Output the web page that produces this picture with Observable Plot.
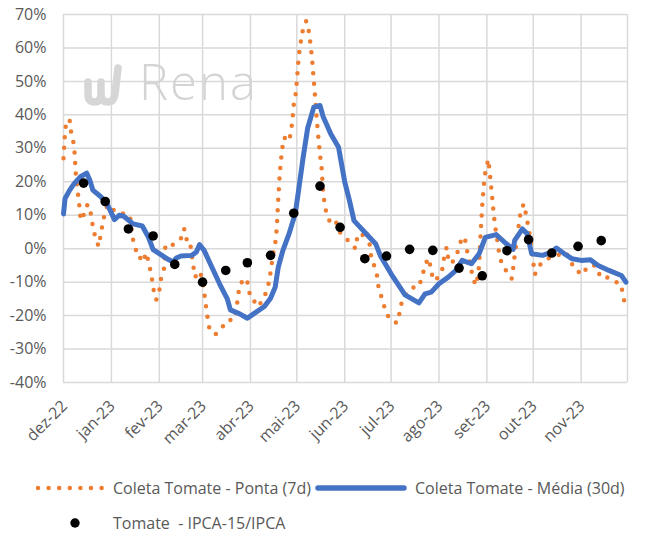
<!DOCTYPE html>
<html>
<head>
<meta charset="utf-8">
<script src="https://cdn.jsdelivr.net/npm/d3@7"></script>
<script src="https://cdn.jsdelivr.net/npm/@observablehq/plot@0.6"></script>
<style>
  html, body { margin: 0; padding: 0; background: #fff; }
  #wrap { position: relative; width: 646px; height: 537px; font-family: "Open Sans", sans-serif; color: #595959; overflow: hidden; }
  #chart { position: absolute; left: 0; top: 0; }
  .wm { position: absolute; pointer-events: none; }
  .leg { position: absolute; font-size: 16px; white-space: pre; line-height: 20px; }
</style>
</head>
<body>
<div id="wrap">
  <div id="chart"></div>
  <svg class="wm" style="left:80px;top:62px" width="46" height="46">
    <path d="M8 20 L8 32 Q8 40 14.5 40 Q21 40 21 32 L21 20 M21 32 Q21 40 28 40 Q34 40 35 32 L38 6" fill="none" stroke="#d6d6d6" stroke-width="7.5" stroke-linecap="round" stroke-linejoin="round"/>
  </svg>
  <div class="wm" style="left:139px;top:48px;font-family:'Open Sans',sans-serif;font-weight:300;font-size:49px;letter-spacing:2px;color:#d4d4d4">Rena</div>
  <svg class="leg" style="left:34px;top:478px" width="74" height="20">
    <line x1="4" y1="10" x2="68" y2="10" stroke="#ED7D31" stroke-width="4.5" stroke-linecap="round" stroke-dasharray="0 10.6"/>
  </svg>
  <div class="leg" style="left:113px;top:478px">Coleta Tomate - Ponta (7d)</div>
  <svg class="leg" style="left:314px;top:478px" width="94" height="20">
    <line x1="4" y1="10" x2="90" y2="10" stroke="#4472C4" stroke-width="5.5" stroke-linecap="round"/>
  </svg>
  <div class="leg" style="left:415px;top:478px">Coleta Tomate - Média (30d)</div>
  <svg class="leg" style="left:65px;top:513px" width="20" height="20">
    <circle cx="10" cy="10" r="4.7" fill="#000"/>
  </svg>
  <div class="leg" style="left:113px;top:513px">Tomate  - IPCA-15/IPCA</div>
</div>
<script>
// ---- Data ----
const yTickValues = [-40, -30, -20, -10, 0, 10, 20, 30, 40, 50, 60, 70];
const monthStarts = ["2022-12-01","2023-01-01","2023-02-01","2023-03-01","2023-04-01","2023-05-01",
  "2023-06-01","2023-07-01","2023-08-01","2023-09-01","2023-10-01","2023-11-01","2023-12-01"];
const monthLabels = ["dez-22","jan-23","fev-23","mar-23","abr-23","mai-23","jun-23","jul-23","ago-23","set-23","out-23","nov-23"];

// Coleta Tomate - Ponta (7d), %
const pontaSeries = [
["2022-12-01",27],["2022-12-02",35],["2022-12-03",38.5],["2022-12-04",38.5],["2022-12-05",38.3],
["2022-12-06",34.5],["2022-12-07",33],["2022-12-08",30],["2022-12-09",22],["2022-12-10",18],
["2022-12-11",14],["2022-12-12",9],["2022-12-13",8.5],["2022-12-14",10],["2022-12-15",12],
["2022-12-16",12.9],["2022-12-17",13.2],["2022-12-18",11.5],["2022-12-19",10],["2022-12-20",6.5],
["2022-12-21",4.5],["2022-12-22",3],["2022-12-23",1.5],["2022-12-24",0.7],["2022-12-25",4.2],
["2022-12-26",6.5],["2022-12-27",9],["2022-12-28",11],["2022-12-29",12.5],["2022-12-30",13],
["2023-01-01",12.9],["2023-01-03",11],["2023-01-08",10.6],["2023-01-12",10],["2023-01-13",9.9],
["2023-01-14",6],["2023-01-15",2.7],["2023-01-16",0.5],["2023-01-17",-0.5],["2023-01-19",-0.7],
["2023-01-20",-3.7],["2023-01-22",-3.7],["2023-01-23",-1.5],["2023-01-24",-1.3],["2023-01-25",-4.5],
["2023-01-26",-6],["2023-01-27",-8.2],["2023-01-28",-11.7],["2023-01-29",-13.5],["2023-01-30",-15.3],
["2023-01-31",-14],["2023-02-01",-12.5],["2023-02-02",-9.2],["2023-02-03",-7],["2023-02-04",-6],
["2023-02-05",1.3],["2023-02-10",1.2],["2023-02-14",2.5],["2023-02-15",3],["2023-02-16",5.5],
["2023-02-17",5.9],["2023-02-18",5.2],["2023-02-19",1.6],["2023-02-21",1.6],["2023-02-22",-2],
["2023-02-23",-5],["2023-02-24",-8.5],["2023-02-26",-7.5],["2023-02-27",-6.7],["2023-02-28",-8],
["2023-03-01",-9.5],["2023-03-02",-12.8],["2023-03-03",-16.5],["2023-03-04",-19.8],["2023-03-05",-23.3],
["2023-03-07",-24.5],["2023-03-09",-25.7],["2023-03-11",-25],["2023-03-13",-24.2],["2023-03-15",-22.5],
["2023-03-16",-21.7],["2023-03-19",-21.3],["2023-03-22",-21],["2023-03-23",-17.8],["2023-03-24",-14],
["2023-03-25",-11],["2023-03-27",-9.5],["2023-03-29",-8.8],["2023-03-30",-10],["2023-04-01",-14.7],
["2023-04-03",-15.2],["2023-04-05",-17.3],["2023-04-08",-16.1],["2023-04-11",-13.2],["2023-04-12",-11.5],
["2023-04-13",-10],["2023-04-14",-7],["2023-04-15",-3.7],["2023-04-16",-0.7],["2023-04-17",1.3],
["2023-04-18",6],["2023-04-19",15],["2023-04-20",22.7],["2023-04-21",27.5],["2023-04-22",31.5],
["2023-04-23",33.3],["2023-04-24",32.5],["2023-04-25",32],["2023-04-26",33],["2023-04-27",34],
["2023-04-28",37.8],["2023-04-29",43],["2023-04-30",45],["2023-05-01",50],["2023-05-02",56],
["2023-05-03",60.5],["2023-05-04",62.8],["2023-05-05",65.7],["2023-05-06",67],["2023-05-07",68],
["2023-05-08",67.5],["2023-05-09",64],["2023-05-10",60.7],["2023-05-11",56],["2023-05-12",50],
["2023-05-13",44.5],["2023-05-14",38],["2023-05-15",33],["2023-05-16",28],["2023-05-17",24.4],
["2023-05-18",17],["2023-05-19",13.4],["2023-05-20",11],["2023-05-22",8.5],["2023-05-23",7.2],
["2023-05-26",7.9],["2023-05-27",7.6],["2023-05-28",6.1],["2023-05-29",4.9],["2023-05-30",4.5],
["2023-06-01",3.4],["2023-06-04",2.1],["2023-06-08",0],["2023-06-09",3.1],["2023-06-11",2.5],
["2023-06-14",5.5],["2023-06-15",5.4],["2023-06-16",3],["2023-06-17",1.6],["2023-06-18",-2],
["2023-06-20",-5],["2023-06-22",-8.2],["2023-06-23",-12],["2023-06-24",-13],["2023-06-25",-15],
["2023-06-26",-16.5],["2023-06-28",-19.2],["2023-06-30",-21],["2023-07-01",-21.5],["2023-07-05",-22.2],
["2023-07-06",-20],["2023-07-07",-18.5],["2023-07-08",-15.5],["2023-07-12",-12.5],["2023-07-17",-11.2],
["2023-07-19",-11.3],["2023-07-21",-8.5],["2023-07-23",-5],["2023-07-25",-2.8],["2023-07-27",-6],
["2023-07-28",-9.5],["2023-07-31",-8.8],["2023-08-03",-6.5],["2023-08-04",-3.5],["2023-08-05",-1],
["2023-08-06",0.4],["2023-08-07",-3],["2023-08-09",-4.5],["2023-08-11",-3],["2023-08-13",-1],
["2023-08-14",0.4],["2023-08-16",3.6],["2023-08-18",2.5],["2023-08-19",-0.3],["2023-08-21",-4],
["2023-08-22",-6.5],["2023-08-23",-9],["2023-08-25",-11],["2023-08-26",-8.5],["2023-08-27",-5],
["2023-08-28",5],["2023-08-29",13],["2023-08-30",19],["2023-08-31",23],["2023-09-01",25],
["2023-09-02",26.7],["2023-09-03",22],["2023-09-04",17.5],["2023-09-05",12.4],["2023-09-06",8],
["2023-09-07",4.5],["2023-09-08",1.8],["2023-09-09",-1.7],["2023-09-11",-5],["2023-09-15",-7.5],
["2023-09-17",-9],["2023-09-18",-6],["2023-09-19",-2],["2023-09-20",1.3],["2023-09-21",5],
["2023-09-22",8.2],["2023-09-23",11.6],["2023-09-25",13.4],["2023-09-26",11],["2023-09-27",8.5],
["2023-09-28",6.2],["2023-09-29",3],["2023-09-30",-0.5],["2023-10-01",-4],["2023-10-02",-7.7],
["2023-10-05",-5],["2023-10-10",-3],["2023-10-14",-2.5],["2023-10-22",-1],["2023-10-28",-6.2],
["2023-11-02",-7.8],["2023-11-05",-5.3],["2023-11-10",-5],["2023-11-14",-8.8],["2023-11-19",-8.6],
["2023-11-23",-9.8],["2023-11-27",-10.7],["2023-11-28",-14.1],["2023-11-30",-17.3]
];

// Coleta Tomate - Média (30d), %
const mediaSeries = [
["2022-12-01",10.4],["2022-12-02",15],["2022-12-05",17.5],["2022-12-08",19.5],["2022-12-12",21.5],
["2022-12-16",22.6],["2022-12-18",20.5],["2022-12-20",17.5],["2022-12-25",15.6],["2022-12-29",13.6],
["2023-01-03",8.7],["2023-01-06",10],["2023-01-09",9.7],["2023-01-15",7.4],["2023-01-21",6.8],
["2023-01-25",3.4],["2023-01-28",-0.3],["2023-02-01",-1.5],["2023-02-06",-3],["2023-02-10",-4],
["2023-02-12",-2.8],["2023-02-15",-2.2],["2023-02-22",-2],["2023-02-25",-1],["2023-02-27",1.2],
["2023-03-02",-0.5],["2023-03-06",-4.5],["2023-03-12",-10.5],["2023-03-17",-15],["2023-03-19",-18.3],
["2023-03-25",-19.5],["2023-03-30",-20.8],["2023-04-03",-19.5],["2023-04-10",-17.3],["2023-04-14",-14.8],
["2023-04-17",-11.5],["2023-04-19",-5.5],["2023-04-22",-0.5],["2023-04-26",4.5],["2023-04-30",10.5],
["2023-05-02",17],["2023-05-05",27],["2023-05-08",36],["2023-05-12",42.3],["2023-05-16",42.8],
["2023-05-18",39.5],["2023-05-23",34.3],["2023-05-28",30.3],["2023-06-01",20],["2023-06-04",14.5],
["2023-06-07",8.4],["2023-06-10",6.9],["2023-06-17",3.4],["2023-06-21",1.5],["2023-06-24",-2],
["2023-07-01",-7.5],["2023-07-10",-13.8],["2023-07-19",-16.2],["2023-07-23",-13.5],["2023-07-27",-13],
["2023-08-01",-10.5],["2023-08-07",-8.5],["2023-08-12",-6.5],["2023-08-16",-3.5],["2023-08-22",-4.5],
["2023-08-27",-1.5],["2023-08-31",3.4],["2023-09-07",4.2],["2023-09-13",1.7],["2023-09-18",-0.2],
["2023-09-19",2.5],["2023-09-24",5.9],["2023-09-27",4.5],["2023-09-30",-1.5],["2023-10-07",-2],
["2023-10-13",-1],["2023-10-16",0.2],["2023-10-22",-1.8],["2023-10-26",-3],["2023-11-01",-3.5],
["2023-11-07",-3.3],["2023-11-12",-5],["2023-11-19",-6.5],["2023-11-27",-8],["2023-11-30",-10]
];

// Tomate - IPCA-15/IPCA, %
const ipcaSeries = [
["2022-12-14",19.6],["2022-12-28",14.1],["2023-01-12",5.9],["2023-01-28",3.8],["2023-02-11",-4.7],
["2023-03-01",-10],["2023-03-16",-6.5],["2023-03-30",-4.2],["2023-04-14",-2],["2023-04-29",10.6],
["2023-05-16",18.7],["2023-05-29",6.4],["2023-06-14",-3],["2023-06-28",-2.2],["2023-07-13",-0.2],
["2023-07-28",-0.5],["2023-08-14",-5.8],["2023-08-29",-8.1],["2023-09-14",-0.6],["2023-09-28",2.7],
["2023-10-13",-1.3],["2023-10-30",0.7],["2023-11-14",2.4]
];

// ---- Build ----
const parse = d3.utcParse("%Y-%m-%d");
const toRows = s => s.map(([d, v]) => ({date: parse(d), value: v / 100}));
const ponta = toRows(pontaSeries);
const media = toRows(mediaSeries);
const ipca = toRows(ipcaSeries);
const gridDates = monthStarts.map(parse);
const tickRows = monthLabels.map((label, i) => ({date: gridDates[i], label}));
const yTicks = yTickValues.map(v => v / 100);

const chart = Plot.plot({
  width: 646,
  height: 460,
  marginLeft: 63,
  marginRight: 19,
  marginTop: 14,
  marginBottom: 78,
  style: {fontFamily: "'Open Sans', sans-serif", fontSize: "16px", color: "#595959", background: "#fff"},
  x: {type: "utc", axis: null, domain: [gridDates[0], gridDates[gridDates.length - 1]]},
  y: {domain: [yTicks[0], yTicks[yTicks.length - 1]]},
  marks: [
    Plot.gridY(yTicks, {stroke: "#d9d9d9", strokeOpacity: 1, strokeWidth: 1.5}),
    Plot.gridX(gridDates, {stroke: "#d9d9d9", strokeOpacity: 1, strokeWidth: 1.5}),
    Plot.axisY(yTicks, {tickFormat: d => Math.round(d * 100) + "%", tickSize: 0, tickPadding: 17, label: null, fontSize: 16, fill: "#595959"}),
    Plot.text(tickRows, {x: "date", text: "label", frameAnchor: "bottom", rotate: -45, textAnchor: "end", lineAnchor: "middle", dy: 21, dx: 1, fontSize: 16, fill: "#595959"}),
    Plot.line(ponta, {x: "date", y: "value", stroke: "#ED7D31", strokeWidth: 4.5, strokeLinecap: "round", strokeDasharray: "0 10.6"}),
    Plot.line(media, {x: "date", y: "value", stroke: "#4472C4", strokeWidth: 5, strokeLinejoin: "round", strokeLinecap: "round"}),
    Plot.dot(ipca, {x: "date", y: "value", r: 4.8, fill: "#000", stroke: "none"})
  ]
});
document.getElementById("chart").appendChild(chart);
</script>
</body>
</html>
